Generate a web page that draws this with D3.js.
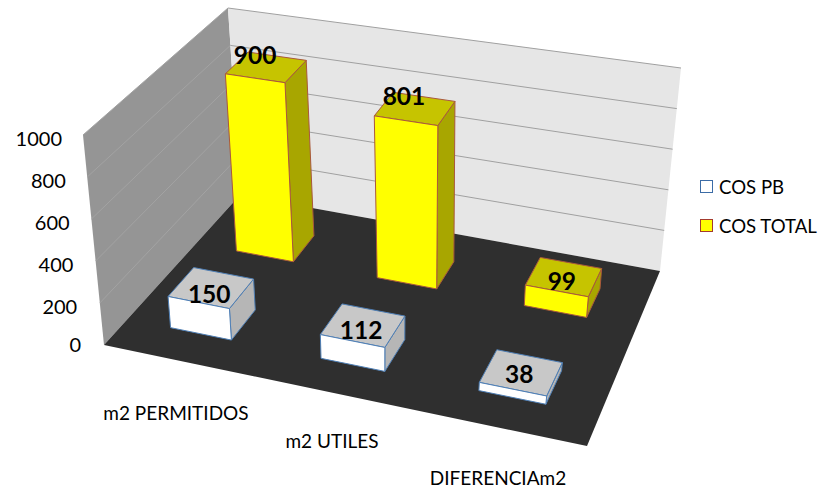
<!DOCTYPE html>
<html>
<head>
<meta charset="utf-8">
<script src="https://cdn.jsdelivr.net/npm/d3@7"></script>
<style>
html,body{margin:0;padding:0;background:#fff}
text{font-family:Lato,"Noto Sans",sans-serif}
</style>
</head>
<body>
<svg id="chart" width="819" height="493"></svg>
<script>
const categories = ["m2 PERMITIDOS", "m2 UTILES", "DIFERENCIAm2"];
const seriesNames = ["COS PB", "COS TOTAL"];
const cosPB = [150, 112, 38];
const cosTotal = [900, 801, 99];
const tickValues = [0, 200, 400, 600, 800, 1000];

const seriesStyle = {
  "COS PB":    {front: "#ffffff", top: "#c8c8c8", side: "#b6b6b6", edge: "#4f7fb5", key: "#3c6ca6"},
  "COS TOTAL": {front: "#ffff00", top: "#c6c400", side: "#a8a600", edge: "#a9583c", key: "#a33a2e"}
};

// Square-to-quad homography for a horizontal plane of the plot box.
function planeMap(p0, p1, p2, p3) {
  const dx1 = p1[0] - p2[0], dx2 = p3[0] - p2[0], sx = p0[0] - p1[0] + p2[0] - p3[0];
  const dy1 = p1[1] - p2[1], dy2 = p3[1] - p2[1], sy = p0[1] - p1[1] + p2[1] - p3[1];
  const den = dx1 * dy2 - dx2 * dy1;
  const g = (sx * dy2 - dx2 * sy) / den, h = (dx1 * sy - sx * dy1) / den;
  const a = p1[0] - p0[0] + g * p1[0], b = p3[0] - p0[0] + h * p3[0];
  const d = p1[1] - p0[1] + g * p1[1], e = p3[1] - p0[1] + h * p3[1];
  return (u, v) => {
    const q = g * u + h * v + 1;
    return [(a * u + b * v + p0[0]) / q, (d * u + e * v + p0[1]) / q];
  };
}

// Floor and ceiling of the plot box on screen: front-left, front-right, back-right, back-left.
const floorMap = planeMap([104, 345], [587, 446], [660, 271], [240, 195]);
const ceilMap  = planeMap([83, 135], [617, 226], [681, 68], [228, 8]);

const hScale = d3.scaleLinear().domain([0, 1000]).range([0, 1]);
const uScale = d3.scaleBand().domain(categories).range([-0.002, 0.992]).paddingInner(0.59).paddingOuter(0.3);
const vScale = d3.scaleBand().domain(seriesNames).range([-0.012, 0.99]).paddingInner(0.633).paddingOuter(0.337);

function project(u, v, value) {
  const t = hScale(value), f = floorMap(u, v), c = ceilMap(u, v);
  return [f[0] + (c[0] - f[0]) * t, f[1] + (c[1] - f[1]) * t];
}

const svg = d3.select("#chart");
const poly = pts => d3.line()(pts) + "Z";

// Walls and floor
svg.append("path").attr("d", poly([project(0,0,0), project(0,0,1000), project(0,1,1000), project(0,1,0)])).attr("fill", "#959595");
svg.append("path").attr("d", poly([project(0,1,0), project(0,1,1000), project(1,1,1000), project(1,1,0)])).attr("fill", "#e6e6e6");
svg.append("path").attr("d", poly([project(0,0,0), project(1,0,0), project(1,1,0), project(0,1,0)])).attr("fill", "#2f2f2f");

// Gridlines running along both walls
const grid = svg.append("g").attr("fill", "none").attr("stroke-width", 1);
tickValues.filter(t => t > 0).forEach(t => {
  grid.append("path").attr("d", d3.line()([project(0,0,t), project(0,1,t)])).attr("stroke", "#a3a3a3");
  grid.append("path").attr("d", d3.line()([project(0,1,t), project(1,1,t)])).attr("stroke", "#a0a0a0");
});

// Value axis labels follow the front edge of the left wall
svg.append("g").selectAll("text").data(tickValues).join("text")
  .attr("x", d => project(0,0,d)[0] - 23 + d / 500)
  .attr("y", d => project(0,0,d)[1] + (d > 0 ? 3.5 : 0))
  .attr("dy", "0.35em")
  .attr("text-anchor", "end")
  .attr("font-size", 20)
  .attr("fill", "#000")
  .text(d => d);

// Bars, back row first
const rows = [
  {name: "COS TOTAL", values: cosTotal},
  {name: "COS PB", values: cosPB}
];
const labels = [];
rows.forEach(row => {
  const st = seriesStyle[row.name];
  const v0 = vScale(row.name), v1 = v0 + vScale.bandwidth();
  categories.forEach((cat, i) => {
    const val = row.values[i];
    const u0 = uScale(cat), u1 = u0 + uScale.bandwidth();
    const g = svg.append("g").attr("stroke", st.edge).attr("stroke-width", 1).attr("stroke-linejoin", "round");
    g.append("path").attr("fill", st.side).attr("d", poly([project(u1,v0,0), project(u1,v1,0), project(u1,v1,val), project(u1,v0,val)]));
    g.append("path").attr("fill", st.top).attr("d", poly([project(u0,v0,val), project(u1,v0,val), project(u1,v1,val), project(u0,v1,val)]));
    g.append("path").attr("fill", st.front).attr("d", poly([project(u0,v0,0), project(u1,v0,0), project(u1,v0,val), project(u0,v0,val)]));
    // Tall bars carry their label toward the back of the top face, short ones near its centre
    const c = project((u0 + u1) / 2, (v0 + v1) / 2, val);
    const tall = val > 500;
    labels.push({val, x: c[0] + (tall ? -11 : -2), y: c[1] + (tall ? -12 : 1 + val / 25)});
  });
});

svg.append("g").selectAll("text").data(labels).join("text")
  .attr("x", d => d.x).attr("y", d => d.y)
  .attr("dy", "0.35em")
  .attr("text-anchor", "middle")
  .attr("font-size", 24.5)
  .attr("font-weight", 700)
  .attr("fill", "#000")
  .text(d => d.val);

// Category labels step down along the front of the floor
const catPos = d3.scaleOrdinal().domain(categories).range([176, 332, 498]);
const catY = d3.scaleOrdinal().domain(categories).range([413, 441, 478]);
svg.append("g").selectAll("text").data(categories).join("text")
  .attr("x", d => catPos(d)).attr("y", d => catY(d))
  .attr("dy", "0.35em")
  .attr("text-anchor", "middle")
  .attr("font-size", 19)
  .attr("fill", "#000")
  .text(d => d);

// Legend
const legendY = d3.scalePoint().domain(seriesNames).range([187, 226]);
const legend = svg.append("g").selectAll("g").data(seriesNames).join("g")
  .attr("transform", d => `translate(700,${legendY(d)})`);
legend.append("rect").attr("x", 0.5).attr("y", -6.5).attr("width", 12).attr("height", 12)
  .attr("fill", d => seriesStyle[d].front).attr("stroke", d => seriesStyle[d].key).attr("stroke-width", 1);
legend.append("text").attr("x", 19).attr("dy", "0.35em").attr("font-size", 18.6).attr("fill", "#000").text(d => d);
</script>
</body>
</html>
